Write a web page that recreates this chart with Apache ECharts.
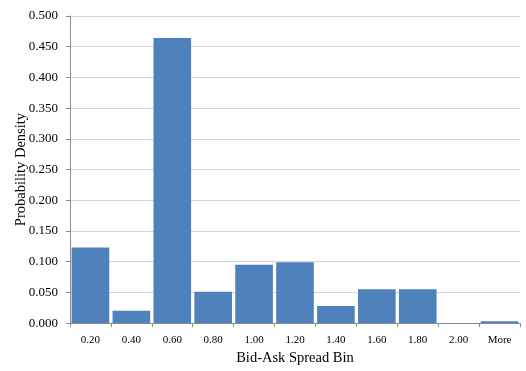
<!DOCTYPE html>
<html>
<head>
<meta charset="utf-8">
<script src="https://cdn.jsdelivr.net/npm/echarts@6/dist/echarts.min.js"></script>
<style>
html, body { margin: 0; padding: 0; background: #fff; }
#chart { width: 526px; height: 371px; }
</style>
</head>
<body>
<div id="chart"></div>
<script>
// Histogram bins of the bid-ask spread and their probability densities
const bins = ['0.20', '0.40', '0.60', '0.80', '1.00', '1.20', '1.40', '1.60', '1.80', '2.00', 'More'];
const density = [0.123, 0.020, 0.464, 0.051, 0.095, 0.099, 0.028, 0.055, 0.055, 0.000, 0.003];
const yTicks = { min: 0, max: 0.5, interval: 0.05 };

const serif = '"Liberation Serif", "Times New Roman", serif';
const chart = echarts.init(document.getElementById('chart'), null, { renderer: 'canvas' });

chart.setOption({
  animation: false,
  backgroundColor: '#ffffff',
  grid: { left: 70, right: 6, top: 16, bottom: 44 },
  xAxis: {
    type: 'category',
    data: bins,
    name: 'Bid-Ask Spread Bin',
    nameLocation: 'middle',
    nameGap: 27,
    nameTextStyle: { fontFamily: serif, fontSize: 14.5, color: '#000' },
    axisLine: { lineStyle: { color: '#8c8c8c', width: 1 } },
    axisTick: { show: true, alignWithLabel: false, length: 4, lineStyle: { color: '#8c8c8c' } },
    axisLabel: { fontFamily: serif, fontSize: 11, color: '#000', margin: 12 },
    splitLine: { show: false }
  },
  yAxis: {
    type: 'value',
    min: yTicks.min,
    max: yTicks.max,
    interval: yTicks.interval,
    name: 'Probability Density',
    nameLocation: 'middle',
    nameGap: 41,
    nameMoveOverlap: false,
    nameRotate: 90,
    nameTextStyle: { fontFamily: serif, fontSize: 14.5, color: '#000' },
    axisLine: { show: true, lineStyle: { color: '#8c8c8c', width: 1 } },
    axisTick: { show: true, length: 4, lineStyle: { color: '#8c8c8c' } },
    axisLabel: {
      fontFamily: serif, fontSize: 13, color: '#000', margin: 12,
      formatter: v => v.toFixed(3)
    },
    splitLine: { show: true, lineStyle: { color: '#d4d4d4', width: 1 } }
  },
  series: [{
    type: 'bar',
    data: density,
    barCategoryGap: '8%',
    itemStyle: { color: '#4f81bd' }
  }]
});
</script>
</body>
</html>
